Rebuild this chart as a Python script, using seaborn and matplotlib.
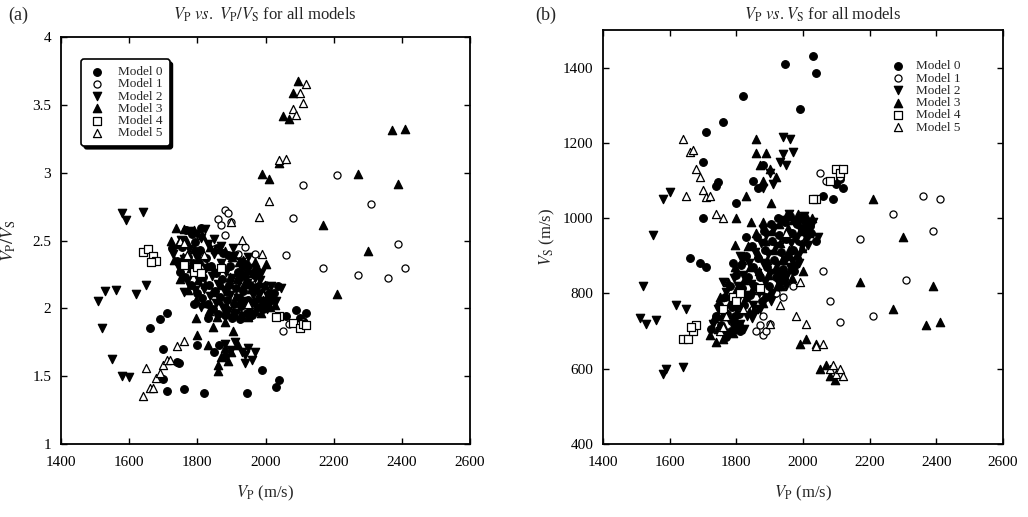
import numpy as np
import pandas as pd
import matplotlib
matplotlib.use("Agg")
import matplotlib.pyplot as plt
import seaborn as sns
from matplotlib.ticker import FuncFormatter

# ---------------- data: (Vp, Vs) pairs ----------------
model0_vp = [1725,1740,1748,1755,1765,1772,1780,1786,1792,1798,1803,1808,1814,1818,1824,1830,1835,1840,
             1846,1851,1856,1861,1866,1871,1876,1882,1887,1892,1897,1903,1908,1913,1918,1924,1929,1934,
             1939,1945,1950,1955,1961,1966,1971,1977,1983,1988,1994,1999,2005,2010,1790,1830,2020,
             1768,1785,1795,1812,1858,1915,1942,1972,2025,2038,1890,1925,
             2030,2040,1945,1820,1990,1710,1700,1745,1740,1660,1690,1710,2110,2100,2120,2060,2090,1800,
             1850,1865,1700,1760,1880]
model0_vs = [705,740,770,715,790,745,820,765,720,850,790,745,875,815,770,900,845,795,
             925,870,820,950,895,845,780,965,915,870,820,985,940,890,845,1000,955,910,
             865,990,945,900,1005,960,915,875,985,940,1000,955,990,950,880,950,980,
             685,700,740,700,760,800,835,860,960,940,790,860,
             1430,1385,1410,1325,1290,1230,1150,1095,1085,895,880,870,1105,1090,1080,1060,1050,1040,
             1100,1080,1000,1255,1140]

model1_vp = [2050,2100,2110,2070,2210,2270,2310,2360,2390,2410,2170,2080,2110,2060,
             1860,1880,1900,1880,1850,1960,1970,1940,1990,1890,1920,2000,1870]
model1_vs = [1120,1130,1110,1100,740,1010,835,1060,965,1050,945,780,725,860,
             700,690,720,740,760,880,820,790,950,700,800,920,715]

model2_vp = [1730,1745,1752,1762,1770,1777,1785,1793,1800,1806,1812,1820,1826,1832,1838,1844,1850,1856,
             1862,1868,1874,1879,1885,1890,1896,1902,1907,1913,1918,1923,1929,1935,1940,1946,1952,1957,
             1963,1968,1974,1980,1985,1991,1997,2003,2008,2015,1760,1810,1880,1950,
             1775,1798,1822,1848,1905,1932,1960,1988,2030,2045,1870,
             1510,1520,1530,1550,1580,1600,1590,1580,1640,1620,1650,
             1940,1960,1970,1940,1930,1950,1900,1910,1880,1560]
model2_vs = [720,760,700,745,805,730,780,840,760,820,720,850,795,740,880,825,770,910,
             855,800,935,880,830,955,905,855,800,975,925,875,825,995,945,890,850,1010,
             935,885,990,945,900,970,925,1005,965,930,830,900,970,820,
             690,705,705,735,780,845,870,880,990,950,760,
             735,820,720,955,1050,1070,600,585,605,770,760,
             1215,1210,1175,1170,1150,1140,1120,1090,1080,730]

model3_vp = [1722,1733,1744,1750,1758,1767,1774,1781,1789,1796,1801,1808,1816,1822,1828,1835,1842,1848,
             1853,1859,1864,1869,1874,1881,1886,1891,1896,1901,1906,1912,1917,1921,1927,1932,1938,1943,
             1948,1953,1958,1964,1969,1975,1981,1986,1992,1998,2004,2012,2018,1795,1845,1905,
             1738,1760,1790,1815,1838,1880,1935,1968,2000,2028,1955,
             2210,2300,2270,2370,2410,2390,2050,2080,2010,2040,2070,2095,1990,2170,
             1860,1860,1890,1870,1900,1880,1920,1830,1800]
model3_vs = [690,735,705,790,740,705,830,775,735,870,815,770,890,835,790,925,870,810,
             760,960,905,860,810,990,940,890,850,800,965,915,865,820,985,935,890,850,
             1005,960,915,870,995,950,905,1010,965,920,975,1000,960,930,990,1040,
             670,680,695,715,750,775,820,840,860,1000,975,
             1050,950,760,715,725,820,600,580,680,665,610,570,665,830,
             1210,1173,1173,1140,1130,1100,1110,1060,1000]

model4_vp = [1640,1655,1670,1680,1665,1790,1800,1810,1760,2040,2080,2100,2110,2120,2030,1870]
model4_vs = [680,680,700,715,710,790,780,800,760,1050,1100,1130,1120,1130,1050,815]

model5_vp = [1640,1660,1670,1680,1690,1700,1650,1710,1720,1740,1760,
             2080,2100,2120,2110,2090,2040,2060,
             1750,1770,1900,2010,1980,1930,1990,1820,1950,1760]
model5_vs = [1210,1175,1180,1130,1110,1075,1060,1055,1060,1010,1000,
             600,585,580,600,610,660,665,
             700,740,720,720,740,770,830,760,960,710]

labels = ["Model 0", "Model 1", "Model 2", "Model 3", "Model 4", "Model 5"]
vp_all = [model0_vp, model1_vp, model2_vp, model3_vp, model4_vp, model5_vp]
vs_all = [model0_vs, model1_vs, model2_vs, model3_vs, model4_vs, model5_vs]

frames = []
for lab, vp, vs in zip(labels, vp_all, vs_all):
    d = pd.DataFrame({"vp": vp, "vs": vs})
    d["ratio"] = d["vp"] / d["vs"]
    d["model"] = lab
    frames.append(d)
df = pd.concat(frames, ignore_index=True)

# ---------------- style ----------------
sns.set_theme(style="ticks")
plt.rcParams["font.family"] = "serif"
plt.rcParams["font.serif"] = ["Liberation Serif", "DejaVu Serif"]
plt.rcParams["mathtext.fontset"] = "stix"

markers = ["o", "o", "v", "^", "s", "^"]
filled = [True, False, True, True, False, False]
sizes = [30, 26, 36, 36, 27, 34]

fig = plt.figure(figsize=(10.28, 5.17), dpi=100)
axL = fig.add_axes([61/1028, 1-444/517, 409/1028, 407/517])
axR = fig.add_axes([603/1028, 1-444/517, 400/1028, 414/517])

for ax, ycol in [(axL, "ratio"), (axR, "vs")]:
    for i, lab in enumerate(labels):
        sub = df[df["model"] == lab]
        sns.scatterplot(data=sub, x="vp", y=ycol, ax=ax, marker=markers[i],
                        color="black" if filled[i] else "white",
                        edgecolor="black", linewidth=0.9, s=sizes[i], label=lab)
    ax.set_xlim(1400, 2600)
    ax.set_xticks(np.arange(1400, 2601, 200))
    ax.tick_params(direction="in", length=4, width=1, top=True, right=True,
                   labelsize=11, colors="black")
    ax.tick_params(axis="x", pad=9)
    ax.tick_params(axis="y", pad=7)
    for sp in ax.spines.values():
        sp.set_linewidth(1.3)
        sp.set_color("black")
    ax.set_xlabel(r"$V_\mathrm{P}$ (m/s)", fontsize=12, labelpad=10)

axL.set_ylim(1, 4)
axL.set_yticks(np.arange(1, 4.01, 0.5))
axL.yaxis.set_major_formatter(FuncFormatter(lambda v, p: "%g" % v))
axL.set_ylabel(r"$V_\mathrm{P}/V_\mathrm{S}$", fontsize=13, labelpad=10)

axR.set_ylim(400, 1500)
axR.set_yticks(np.arange(400, 1401, 200))
axR.set_ylabel(r"$V_\mathrm{S}$ (m/s)", fontsize=12, labelpad=4)

legL = axL.legend(loc="upper left", bbox_to_anchor=(0.05, 0.945), borderaxespad=0,
                  fontsize=9.5, labelspacing=0.0, handletextpad=0.9, handlelength=1.4,
                  frameon=True, fancybox=True, edgecolor="black",
                  shadow={"color": "black", "alpha": 1.0}, borderpad=0.5)
legL.get_frame().set_linewidth(1.2)
axR.legend(loc="upper left", bbox_to_anchor=(0.7, 0.94), borderaxespad=0,
           fontsize=9.5, labelspacing=0.0, handletextpad=0.7, handlelength=1.4,
           frameon=False)

fig.text(8/1028, 1-15/517, "(a)", fontsize=13, va="center", ha="left")
fig.text(535/1028, 1-15/517, "(b)", fontsize=13, va="center", ha="left")
fig.text(265/1028, 1-15/517, r"$V_\mathrm{P}$ $vs.$ $V_\mathrm{P}/V_\mathrm{S}$ for all models",
         fontsize=12, va="center", ha="center")
fig.text(823/1028, 1-15/517, r"$V_\mathrm{P}$ $vs.V_\mathrm{S}$ for all models",
         fontsize=12, va="center", ha="center")

fig.savefig("out.png", dpi=100)
